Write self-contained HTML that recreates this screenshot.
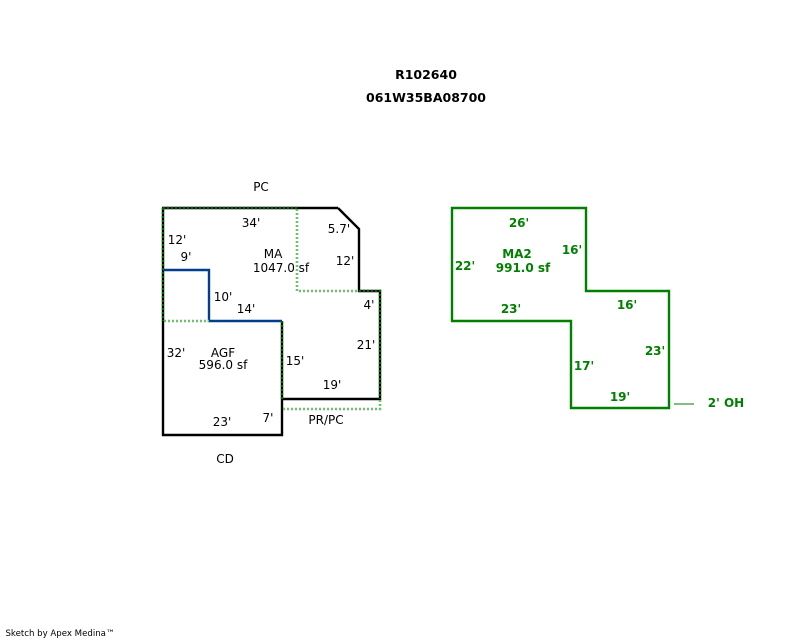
<!DOCTYPE html>
<html><head><meta charset="utf-8"><style>
html,body{margin:0;padding:0;background:#fff;width:800px;height:640px;overflow:hidden}
svg{display:block}
text{font-family:"DejaVu Sans","Liberation Sans",sans-serif;font-size:12px;fill:#000;text-anchor:middle}
.g text{fill:#008000;font-weight:bold}
.t text{font-weight:bold;font-size:12.5px}
</style></head><body>
<svg width="800" height="640" viewBox="0 0 800 640" xmlns="http://www.w3.org/2000/svg">
<g class="t"><text x="426" y="79">R102640</text><text x="426" y="102">061W35BA08700</text></g>
<g fill="none" stroke-width="2.4">
<path d="M338 208L359 229V291H380V399H282M297 208H338M282 321V435H162M163 436V208M162 208H297" stroke="#000"/>
<path d="M163 270H209V321H282" stroke="#003f8a"/>
<path d="M164 321H209M297 209V291H359M283 409H381M380 400V410" stroke="#6fc06f" stroke-width="2.6" stroke-dasharray="2 2"/>
<path d="M163 208V321M163 208H297M359 291H380V399M282 321V399" stroke="#006400" stroke-dasharray="2 2"/>
<path d="M452 208H586V291H669V408H571V321H452Z" stroke="#008000"/>
<path d="M674 404H694" stroke="#7fbf7f" stroke-width="2"/>
</g>
<g>
<text x="261" y="191">PC</text><text x="251" y="227">34'</text><text x="339" y="233">5.7'</text>
<text x="177" y="244">12'</text><text x="186" y="261">9'</text><text x="345" y="265">12'</text>
<text x="273" y="258">MA</text><text x="281" y="272">1047.0 sf</text>
<text x="223" y="301">10'</text><text x="246" y="313">14'</text><text x="369" y="309">4'</text>
<text x="176" y="357">32'</text><text x="223" y="357">AGF</text><text x="223" y="369">596.0 sf</text>
<text x="295" y="365">15'</text><text x="366" y="349">21'</text><text x="332" y="389">19'</text>
<text x="268" y="422">7'</text><text x="222" y="426">23'</text><text x="326" y="424">PR/PC</text><text x="225" y="463">CD</text>
</g>
<g class="g">
<text x="519" y="227">26'</text><text x="572" y="254">16'</text><text x="517" y="258">MA2</text>
<text x="523" y="272">991.0 sf</text><text x="465" y="270">22'</text><text x="511" y="313">23'</text>
<text x="627" y="309">16'</text><text x="655" y="355">23'</text><text x="584" y="370">17'</text>
<text x="620" y="401">19'</text><text x="726" y="407">2' OH</text>
</g>
<text x="60" y="636" style="font-size:8.6px">Sketch by Apex Medina™</text>
</svg>
</body></html>
